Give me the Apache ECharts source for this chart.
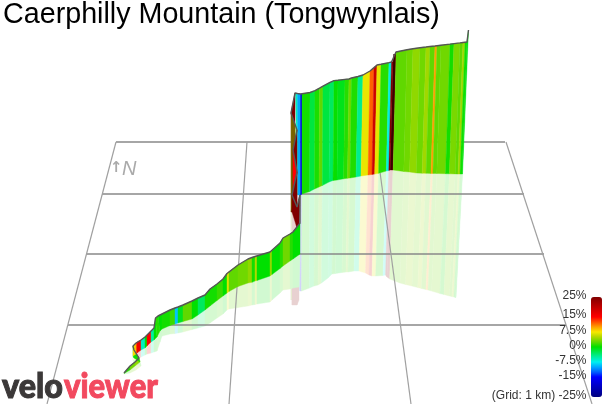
<!DOCTYPE html>
<html><head><meta charset="utf-8">
<style>html,body{margin:0;padding:0;background:#fff}#c{width:603px;height:404px}</style>
<script src="https://cdn.jsdelivr.net/npm/echarts@6/dist/echarts.min.js"></script>
</head><body><div id="c"></div>
<script>
// Route stations, in ride order: lower climb, fold-back, upper wall.
const sectionStarts = [0, 40, 48];
const routeTopX = [124,130,135,139,134,133,136,137,141,145,147,151,154,155.5,158,162,170,175,178,183,192,198,205,210,217,223,227,229,238,248,252,255,257,270,272,280,283,290,293,300,
  300,297,292,297,293,297,291,295,
  295.5,297.5,300.5,302,310,315,319.5,323,330,334,338,345,349,351.5,358,363,370,374,377,381,389,391.5,393,396,407,413,420,426,430,435,437,441,450,454,460,463,465,467,468.5];
const routeTopY = [373,366,362,358,350,346,343,342,340,337,335,331,328,318,316,314,310,308,307,305,301,298,295,289,284,279,273.5,271.5,265,259,257.5,256.5,256,252,250.5,243,238,234,232,223,
  195,207,195,172,150,130,113,93,
  93.5,93.5,94,94,92.5,90.7,88.2,86.2,82.4,80.6,80.2,79.4,79,78,76.5,75,71,67.6,65,64.3,62.6,62,61.7,52,49.8,48.7,47.7,47,46.5,46,45.7,45.2,44.1,43.6,42.9,42.5,42.2,42,30];
const routeBaseX = [124,130,135,140,134,133,136,137,141,145,147,151,154,157,160,162,170,175,178,183,192,198,205,210,217,223,227,229,238,248,252,255,257,270,272,280,283,290,293,300,
  299,297,292,297,293,297,291,295,
  297.5,298,300.5,302,309.7,314.5,319,322.3,329,333,337,343.6,347.5,350,356,361,368,372,374.7,378.6,386.3,388.8,390.2,393,403.8,409.6,416.4,422.2,426,431,432.9,436.8,445.5,449.4,455.2,458,460,462,462.5];
const routeBaseY = [373.5,370,366,362,358,356,354,353,350,348,346,342,340,337,331,329,325.5,324,323,321.5,319,315,310,306,300.5,296,293,291.5,286.5,283,282.3,281,280.5,276,274.5,268.5,266,261,259,254,
  230,228,212,207,195,172,212,212,
  195,195,195,194,191.5,189,187,185.5,182,180.5,180,178.8,178.2,178,177,176,175,174.5,174,173.3,171,170.5,170,170,171.5,172,173,173.2,173.3,173.4,173.4,173.5,173.7,173.8,173.9,174,174,174,174];
const shadowX = [124,130,136,141,134,133,136,137,141,145,147,151,154,157,160,162,170,175,178,183,192,198,205,210,217,223,227,229,238,248,252,255,257,270,272,280,283,290,293,299,
  299,297,292,297,293,297,291,295,
  298,298.5,300,301.5,309.4,314,318,321.5,328,332,335.5,342,346,348,354,359,365.5,369,372,375.7,383,385.5,387,389.7,400,405.6,412,417.8,421.5,426,428,431.6,440,444,449.5,452,453.8,455.5,456];
const shadowY = [374,373,370,366,362,360,360,359,357,355,354,353,352,351,342,336,334,333.5,333,332,329.5,328,326,323,318,314,310,309,307.5,306,305,304.5,304,302,300,293,290,289,288,287,
  300,305,305,300,300,295,300,295,
  290,290,291,291,288,286,285,283,278,274,273.5,272.5,272,272,271,271,273,275,276,276,275.5,275,277,279,283,284.5,286,287.5,288.5,289.5,290,291,293.5,294.5,296,296.5,297,297.5,297.5];
const routeGrade = [0,1,3,4,0.5,-0.5,8,12,16,-6,0,15,-5,0,1,0,0.5,1.5,-9,-1,2.5,0,-3,0.5,0.5,1.5,0,6.5,2.5,3,4,0.5,5,0,4,0,1,3,1,0,
  0,25,25,25,15,25,3,25,
  -6,-6,-10,-17,0.5,-2,0.7,2.5,-2,-3,0.2,-0.8,1,3,0.8,-4.5,7,12,19,6.8,1,-7,25,25,2.5,3,4,3,4.5,2.5,10,2.5,3,0.5,3.3,2.5,4.5,0.5,-0.5];
// Very dark fold edge of the steep pitch at the top
const foldX = [394.5,391.5];
const foldY = [54,170];
// Floor grid
const rowY = [142,194,254,325];
const rowLeft = [116,102,86,68];
const rowRight = [505,524,544,566];
const colTopX = [116,247,376,506];
const colBottomX = [47,229,411,592];
const floorTop = 142, floorBottom = 404;
// Gradient scale
const gradeMin = -25, gradeMax = 25;
const gradeColors = ['#00007f','#00009f','#0000bf','#0000df','#0000ff','#0060ff','#00a8ff','#00f0f0','#00eea0','#00e850','#00e000','#60d800','#b0d800','#f8e800','#ffa000','#ff5000','#ff0000','#e00000','#c00000','#a00000','#800000'];
const legendLabels = ['25%','15%','7.5%','0%','-7.5%','-15%','(Grid: 1 km) -25%'];
const legendLabelY = [296,315,331,346,361,376,396];
const titleText = 'Caerphilly Mountain (Tongwynlais)';

const chart = echarts.init(document.getElementById('c'), null, {renderer:'canvas', width:603, height:404});
function paleOf(c){ const p = echarts.color.parse(c), a = 0.18;
  return 'rgb(' + [0,1,2].map(i => Math.round(p[i]*a + 255*(1-a))).join(',') + ')'; }
function stripRender(pale, isFold){ return function(params, api){
  const i = api.value(0);
  const pts = pale
    ? [[routeBaseX[i-1],routeBaseY[i-1]],[routeBaseX[i],routeBaseY[i]],[shadowX[i],shadowY[i]],[shadowX[i-1],shadowY[i-1]]]
    : [[routeTopX[i-1],routeTopY[i-1]],[routeTopX[i],routeTopY[i]],[routeBaseX[i],routeBaseY[i]],[routeBaseX[i-1],routeBaseY[i-1]]];
  const col = api.visual('color');
  const fill = pale ? paleOf(col) : col;
  const alpha = (isFold && !pale && api.value(1) < 10) ? 0.45 : 1;
  return {type:'polygon', shape:{points:pts.map(p => api.coord(p))}, style:{fill:fill, stroke:fill, lineWidth:0.4, opacity:alpha}};
};}
const ends = [sectionStarts[1], sectionStarts[2], routeTopX.length];
const stripSeries = [], stripIdx = [];
[true,false].forEach(pale => [2,1,0].forEach(sec => {
  const data = [];
  for (let i = sectionStarts[sec] + 1; i < ends[sec]; i++) data.push([i, routeGrade[i]]);
  if (sec === 1) data.reverse(); // far end of the fold is painted first
  stripIdx.push(stripSeries.length);
  stripSeries.push({type:'custom', coordinateSystem:'cartesian2d', silent:true, clip:false, z: pale ? 1 : 3 + (2-sec)*0.1,
    encode:{x:0,y:1}, renderItem:stripRender(pale, sec === 1), data:data, animation:false});
}));
const gridSeries = [];
rowY.forEach((y,k) => gridSeries.push({type:'line', z:2, silent:true, symbol:'none', animation:false,
  lineStyle:{color:'#888', width:1.5}, data:[[rowLeft[k],y],[rowRight[k],y]]}));
colTopX.forEach((x,k) => gridSeries.push({type:'line', z:2, silent:true, symbol:'none', animation:false,
  lineStyle:{color:'#a0a0a0', width:1.2}, data:[[x,floorTop],[colBottomX[k],floorBottom]]}));
const outline = {type:'line', z:4, silent:true, symbol:'none', animation:false, lineStyle:{color:'#555', width:1.4},
  data:routeTopX.map((x,i) => [x, routeTopY[i]])};
const fold = {type:'line', z:3.9, silent:true, symbol:'none', animation:false, lineStyle:{color:'#3a0000', width:2.2},
  data:foldX.map((x,i) => [x, foldY[i]])};
const texts = [
  {type:'text', left:3, top:1, z:10, style:{text:titleText, font:'28.7px "Liberation Sans"', fill:'#000'}},
  {type:'text', left:110, top:161, z:10, style:{text:'↑', font:'bold 15px "DejaVu Sans"', fill:'#aaa'}},
  {type:'text', left:122, top:159, z:10, style:{text:'N', font:'italic 20px "Liberation Sans"', fill:'#aaa'}},
  {type:'text', x:2, y:370, scaleX:0.95, z:10, style:{text:'velo', font:'900 34px Lato', fill:'#3b3838', stroke:'#3b3838', lineWidth:1}},
  {type:'text', x:64, y:370, scaleX:0.91, z:10, style:{text:'viewer', font:'900 34px Lato', fill:'#f2495f', stroke:'#f2495f', lineWidth:1}}
];
legendLabels.forEach((t,k) => texts.push({type:'text', z:10, x:586.5, y:legendLabelY[k],
  style:{text:t, font:'12px "Liberation Sans"', fill:'#333', textAlign:'right', textVerticalAlign:'middle'}}));
chart.setOption({
  animation:false, backgroundColor:'#fff',
  grid:{left:0,right:0,top:0,bottom:0},
  xAxis:{type:'value', min:0, max:603, show:false},
  yAxis:{type:'value', min:0, max:404, inverse:true, show:false},
  visualMap:{type:'continuous', min:gradeMin, max:gradeMax, dimension:1, seriesIndex:stripIdx,
    inRange:{color:gradeColors}, left:591, top:297, itemWidth:11, itemHeight:100, padding:0, calculable:false, hoverLink:false, text:null, showLabel:false},
  graphic:texts,
  series:stripSeries.concat(gridSeries,[fold,outline])
});
</script></body></html>
